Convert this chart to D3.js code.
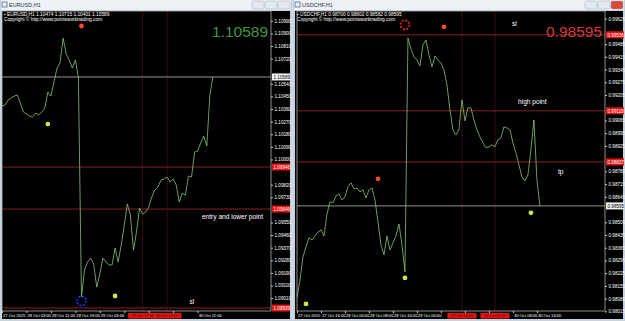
<!DOCTYPE html>
<html>
<head>
<meta charset="utf-8">
<script src="https://cdn.jsdelivr.net/npm/d3@7"></script>
<style>
  body { margin: 0; background: #d3dbe6; }
  svg { display: block; font-family: "Liberation Sans", Arial, sans-serif; }
</style>
</head>
<body>
<svg id="chart" width="625" height="321"></svg>
<script>
// ---- EURUSD, H1 (bar 0 = 27 Oct 19:00) ----
const eurPrices = [
  1.10382, 1.10389, 1.10424, 1.10439, 1.10453, 1.10460, 1.10403, 1.10339, 1.10324, 1.10310,
  1.10303, 1.10332, 1.10317, 1.10339, 1.10367, 1.10482, 1.10453, 1.10553, 1.10653, 1.10689,
  1.10867, 1.10753, 1.10710, 1.10653, 1.10710, 1.10582, 1.09018, 1.09211, 1.09268, 1.09296,
  1.09253, 1.09089, 1.09182, 1.09296, 1.09268, 1.09246, 1.09246, 1.09368, 1.09268, 1.09389,
  1.09532, 1.09682, 1.09603, 1.09353, 1.09482, 1.09653, 1.09610, 1.09625, 1.09660, 1.09732,
  1.09782, 1.09803, 1.09853, 1.09860, 1.09875, 1.09839, 1.09860, 1.09818, 1.09696, 1.09760,
  1.09746, 1.09882, 1.09875, 1.10053, 1.10060, 1.10117, 1.10167, 1.10096, 1.10460, 1.10589
];
const eurPriceTicks = [1.10990, 1.10900, 1.10810, 1.10720, 1.10630, 1.10540, 1.10450, 1.10360,
  1.10270, 1.10180, 1.10090, 1.10000, 1.09910, 1.09820, 1.09730, 1.09640, 1.09550, 1.09460,
  1.09370, 1.09280, 1.09190, 1.09100, 1.09010];
const eurTimeBars = [0, 8, 16, 24, 32, 40, 48, 56, 64];
const eurTimeLabels = ["27 Oct 2015", "28 Oct 03:00", "28 Oct 11:00", "28 Oct 19:00", "29 Oct 03:00",
  "29 Oct 11:00", "29 Oct 19:00", "30 Oct 03:00", "30 Oct 11:00"];
const eurBid = 1.10589;
const eurLevels = [1.09946, 1.09646, 1.08939];
const eurVLineBars = [46, 54];
const eurVLineLabels = ["29 Oct 17:00", "30 Oct 01:00"];
const eurGreenDots = [[15, 1.10253], [37, 1.09025]];
const eurRedDots = [[26, 1.10953]];
const eurBlueRings = [[26, 1.08989]];
const eurNotes = [["entry and lower point", 65.4, 1.09575], ["sl", 61.3, 1.08968]];

// ---- USDCHF, H1 (bar 0 = 27 Oct 08:00) ----
const chfPrices = [
  0.98089, 0.98188, 0.98315, 0.98370, 0.98419, 0.98408, 0.98430, 0.98452, 0.98463, 0.98430,
  0.98551, 0.98617, 0.98612, 0.98650, 0.98661, 0.98628, 0.98645, 0.98700, 0.98722, 0.98689,
  0.98694, 0.98672, 0.98683, 0.98639, 0.98683, 0.98694, 0.98628, 0.98507, 0.98381, 0.98326,
  0.98430, 0.98353, 0.98392, 0.98430, 0.98496, 0.98381, 0.98232, 0.99519, 0.99459, 0.99415,
  0.99398, 0.99365, 0.99481, 0.99508, 0.99426, 0.99360, 0.99420, 0.99398, 0.99382, 0.99343,
  0.99261, 0.99123, 0.99013, 0.98986, 0.99013, 0.99178, 0.99063, 0.99134, 0.99134, 0.99068,
  0.99013, 0.98975, 0.98942, 0.98914, 0.98920, 0.98931, 0.98920, 0.98958, 0.98969, 0.99030,
  0.99024, 0.99013, 0.98942, 0.98887, 0.98821, 0.98755, 0.98733, 0.98766, 0.98903, 0.99068,
  0.98738, 0.98595
];
const chfPriceTicks = [0.99625, 0.99555, 0.99485, 0.99415, 0.99345, 0.99275, 0.99205, 0.99135,
  0.99065, 0.98995, 0.98925, 0.98855, 0.98785, 0.98715, 0.98645, 0.98575, 0.98505, 0.98435,
  0.98365, 0.98295, 0.98225, 0.98155, 0.98085, 0.98015];
const chfTimeBars = [0, 8, 16, 24, 32, 40, 48, 56, 64, 72, 80];
const chfTimeLabels = ["27 Oct 2015", "27 Oct 16:00", "28 Oct 00:00", "28 Oct 08:00", "28 Oct 16:00",
  "29 Oct 00:00", "29 Oct 08:00", "29 Oct 16:00", "30 Oct 00:00", "30 Oct 08:00", "30 Oct 16:00"];
const chfBid = 0.98595;
const chfLevels = [0.99536, 0.99118, 0.98837];
const chfVLineBars = [55, 66];
const chfVLineLabels = ["29 Oct 15:00", "30 Oct 02:00"];
const chfGreenDots = [[3, 0.98056], [36, 0.98199], [78, 0.98557]];
const chfRedDots = [[27, 0.98744], [49, 0.99580]];
const chfRedRings = [[36, 0.99591]];
const chfNotes = [["sl", 71.7, 0.99585], ["high point", 73.7, 0.99156], ["tp", 87, 0.98771]];

const svg = d3.select("#chart");

function drawPanel(o) {
  const g = svg.append("g");

  // window chrome
  g.append("rect").attr("x", o.wx).attr("y", 0).attr("width", o.ww).attr("height", 321)
    .attr("fill", "#c7d2df");
  g.append("rect").attr("x", o.wx + 1).attr("y", 0).attr("width", o.ww - 2).attr("height", 10)
    .attr("fill", "#eef2f7");
  g.append("rect").attr("x", o.wx + 2).attr("y", 2).attr("width", 5).attr("height", 5)
    .attr("fill", "none").attr("stroke", "#4a6a90").attr("stroke-width", 0.8);
  g.append("text").attr("x", o.wx + 9).attr("y", 7).attr("font-size", 5.5)
    .attr("fill", "#22324a").text(o.title);

  // min / restore / close buttons
  o.buttons.forEach((c, i) => {
    g.append("rect").attr("x", o.wx + o.ww - 40 + i * 13).attr("y", 1).attr("width", 12).attr("height", 8)
      .attr("rx", 1.5).attr("fill", c).attr("stroke", "#9aa8b8").attr("stroke-width", 0.5);
  });

  // chart body
  g.append("rect").attr("x", o.wx + 2).attr("y", 11).attr("width", o.ww - 4).attr("height", 308)
    .attr("fill", "#000");

  const x = d3.scaleLinear().domain([0, o.bars]).range([o.l, o.r]);
  const y = d3.scaleLinear().domain(o.yDomain).range([o.b, o.t]);

  const clipId = "clip" + o.wx;
  g.append("clipPath").attr("id", clipId).append("rect")
    .attr("x", o.l).attr("y", o.t).attr("width", o.r - o.l).attr("height", o.b - o.t);
  const plot = g.append("g").attr("clip-path", `url(#${clipId})`);

  // header text
  g.append("text").attr("x", o.wx + 4).attr("y", o.t + 5).attr("font-size", 4.8).attr("fill", "#fff")
    .text(o.header);
  g.append("text").attr("x", o.wx + 4).attr("y", o.t + 10).attr("font-size", 4.8).attr("fill", "#fff")
    .text("Copyright \u00a9 http://www.pointsworktrading.com");

  // vertical dotted lines
  plot.selectAll(".vl").data(o.vlines).enter().append("line")
    .attr("x1", d => x(d)).attr("x2", d => x(d)).attr("y1", o.t).attr("y2", o.b)
    .attr("stroke", "#a02828").attr("stroke-width", 0.7).attr("stroke-dasharray", "1,1");

  // level lines
  plot.selectAll(".lv").data(o.levels).enter().append("line")
    .attr("x1", o.l).attr("x2", o.r).attr("y1", d => y(d)).attr("y2", d => y(d))
    .attr("stroke", "#9c2222").attr("stroke-width", 0.9);
  plot.append("line").attr("x1", o.l).attr("x2", o.r).attr("y1", y(o.bid)).attr("y2", y(o.bid))
    .attr("stroke", "#b8b8b8").attr("stroke-width", 0.8);

  // price line
  const line = d3.line().x((d, i) => x(i)).y(d => y(d));
  plot.append("path").datum(o.prices).attr("d", line)
    .attr("fill", "none").attr("stroke", "#86c47a").attr("stroke-width", 0.8);

  // markers
  plot.selectAll(".gd").data(o.green).enter().append("circle")
    .attr("cx", d => x(d[0])).attr("cy", d => y(d[1])).attr("r", 2.4).attr("fill", "#c6ea4c");
  plot.selectAll(".rd").data(o.red).enter().append("circle")
    .attr("cx", d => x(d[0])).attr("cy", d => y(d[1])).attr("r", 2.4).attr("fill", "#ff4a26");
  plot.selectAll(".rg").data(o.rings).enter().append("circle")
    .attr("cx", d => x(d[0])).attr("cy", d => y(d[1])).attr("r", 4.5)
    .attr("fill", "none").attr("stroke", o.ringColor).attr("stroke-width", 1.8)
    .attr("stroke-dasharray", "2,1.5");

  // notes
  plot.selectAll(".nt").data(o.notes).enter().append("text")
    .attr("x", d => x(d[1])).attr("y", d => y(d[2])).attr("font-size", 6.6).attr("fill", "#fff")
    .text(d => d[0]);

  // big price
  g.append("text").attr("x", o.r - 3).attr("y", o.t + 26).attr("text-anchor", "end")
    .attr("font-size", 15.5).attr("fill", o.bigColor).text(d3.format(".5f")(o.bid));

  // frame
  g.append("rect").attr("x", o.l).attr("y", o.t).attr("width", o.r - o.l).attr("height", o.b - o.t)
    .attr("fill", "none").attr("stroke", "#c8c8c8").attr("stroke-width", 0.7);

  // price axis
  const busy = o.levels.concat([o.bid]).map(p => y(p));
  const ticks = o.priceTicks.filter(p => busy.every(v => Math.abs(y(p) - v) > 6));
  const ya = g.append("g").attr("transform", `translate(${o.r},0)`)
    .call(d3.axisRight(y).tickValues(ticks).tickSize(2).tickPadding(1.5).tickFormat(d3.format(".5f")));
  ya.select(".domain").remove();
  ya.selectAll("line").attr("stroke", "#c8c8c8");
  ya.selectAll("text").attr("fill", "#fff").attr("font-size", 4.6);

  o.levels.forEach(p => {
    g.append("rect").attr("x", o.r + 1).attr("y", y(p) - 3.5).attr("width", 18).attr("height", 7)
      .attr("fill", "#e01515");
    g.append("text").attr("x", o.r + 2.5).attr("y", y(p) + 1.7).attr("font-size", 4.6).attr("fill", "#fff")
      .text(d3.format(".5f")(p));
  });
  g.append("rect").attr("x", o.r + 1).attr("y", y(o.bid) - 3.5).attr("width", 18).attr("height", 7)
    .attr("fill", "#f2f2f2");
  g.append("text").attr("x", o.r + 2.5).attr("y", y(o.bid) + 1.7).attr("font-size", 4.6).attr("fill", "#000")
    .text(d3.format(".5f")(o.bid));

  // time axis; labels covered by the red line-labels are hidden, as in the terminal
  const half = 14.5;
  const boxes = o.vlines.map(b => [x(b) - half, x(b) + half]);
  const free = d => boxes.every(bx => x(d) + 23 < bx[0] || x(d) > bx[1]);
  const xa = g.append("g").attr("transform", `translate(0,${o.b})`)
    .call(d3.axisBottom(x).tickValues(o.timeBars).tickSize(2).tickPadding(1)
      .tickFormat((d, i) => free(d) ? o.timeLabels[i] : ""));
  xa.select(".domain").remove();
  xa.selectAll("line").attr("stroke", "#c8c8c8");
  xa.selectAll("text").attr("fill", "#fff").attr("font-size", 4.1).attr("text-anchor", "start")
    .attr("dx", 0.5);

  o.vlines.forEach((b, i) => {
    g.append("rect").attr("x", x(b) - half).attr("y", o.b + 2).attr("width", half * 2).attr("height", 5.5)
      .attr("fill", "#e01515");
  });
  o.vlines.forEach((b, i) => {
    g.append("text").attr("x", x(b)).attr("y", o.b + 6.3).attr("text-anchor", "middle")
      .attr("font-size", 3.9).attr("fill", "#4a0000").text(o.vlineLabels[i]);
  });
}

drawPanel({
  wx: 0, ww: 292, title: "EURUSD,H1",
  header: "\u25aa EURUSD,H1  1.10474 1.10715 1.10401 1.10589",
  buttons: ["#e4e9f0", "#e4e9f0", "#e4e9f0"],
  l: 2, r: 271, t: 11, b: 311, bars: 88,
  yDomain: [1.08918, 1.11060],
  prices: eurPrices, priceTicks: eurPriceTicks, timeBars: eurTimeBars, timeLabels: eurTimeLabels,
  bid: eurBid, levels: eurLevels, vlines: eurVLineBars, vlineLabels: eurVLineLabels,
  green: eurGreenDots, red: eurRedDots, rings: eurBlueRings, ringColor: "#2230e8",
  notes: eurNotes, bigColor: "#3e9a3e"
});

drawPanel({
  wx: 293, ww: 332, title: "USDCHF,H1",
  header: "\u25aa USDCHF,H1  0.98700 0.98802 0.98582 0.98595",
  buttons: ["#e4e9f0", "#e4e9f0", "#d8493a"],
  l: 297, r: 605, t: 11, b: 311, bars: 102.7,
  yDomain: [0.98017, 0.99667],
  prices: chfPrices, priceTicks: chfPriceTicks, timeBars: chfTimeBars, timeLabels: chfTimeLabels,
  bid: chfBid, levels: chfLevels, vlines: chfVLineBars, vlineLabels: chfVLineLabels,
  green: chfGreenDots, red: chfRedDots, rings: chfRedRings, ringColor: "#e01e1e",
  notes: chfNotes, bigColor: "#d23c3c"
});
</script>
</body>
</html>
